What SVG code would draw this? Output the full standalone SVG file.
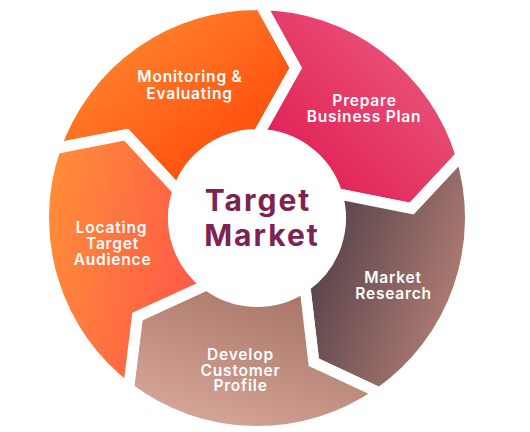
<svg xmlns="http://www.w3.org/2000/svg" width="530" height="432" viewBox="0 0 530 432">
<defs>
<linearGradient id="gMon" x1="0" y1="0" x2="1" y2="1"><stop offset="0" stop-color="#FF9638"/><stop offset="1" stop-color="#FF3A02"/></linearGradient>
<linearGradient id="gPre" x1="1" y1="0" x2="0" y2="1"><stop offset="0" stop-color="#EB6686"/><stop offset="1" stop-color="#DF114C"/></linearGradient>
<linearGradient id="gMar" x1="0" y1="0.15" x2="1" y2="0.65"><stop offset="0" stop-color="#463842"/><stop offset="1" stop-color="#B88177"/></linearGradient>
<linearGradient id="gDev" x1="0.8" y1="0" x2="0.2" y2="1"><stop offset="0" stop-color="#A36F63"/><stop offset="1" stop-color="#D9AA9C"/></linearGradient>
<linearGradient id="gLoc" x1="0" y1="0.3" x2="1" y2="0.6"><stop offset="0" stop-color="#FF8D39"/><stop offset="1" stop-color="#FF5649"/></linearGradient>
</defs>
<style>
.seg{stroke:#FFFFFF;stroke-width:11;stroke-linejoin:miter}
.lbl{font-family:Inter,"Open Sans","DejaVu Sans",sans-serif;font-weight:600;font-size:15.5px;letter-spacing:0.8px;fill:#FFFFFF;text-anchor:middle}
.ctr{font-family:Inter,"Open Sans","DejaVu Sans",sans-serif;font-weight:700;font-size:30px;letter-spacing:2px;fill:#7C2352;text-anchor:middle}
</style>
<rect width="530" height="432" fill="#FFFFFF"/>
<g id="connectors"></g>
<g id="monitoring">
<path class="seg" fill="url(#gMon)" d="M55.13,148.49 A213.5,213.5 0 0 1 260.73,4.53 L295.81,67.94 L258.46,134.51 A83.5,83.5 0 0 0 178.05,190.81 L126.27,134.72 Z"/>
<text class="lbl" x="190" y="82">Monitoring &amp;</text>
<text class="lbl" x="189.5" y="98.5">Evaluating</text>
</g>
<g id="prepare">
<path class="seg" fill="url(#gPre)" d="M260.73,4.53 A213.5,213.5 0 0 1 461.17,155.58 L411.71,208.54 L336.85,193.59 A83.5,83.5 0 0 0 258.46,134.51 L295.81,67.94 Z"/>
<text class="lbl" x="364.5" y="106">Prepare</text>
<text class="lbl" x="364" y="122">Business Plan</text>
</g>
<g id="research">
<path class="seg" fill="url(#gMar)" d="M461.17,155.58 A213.5,213.5 0 0 1 379.46,392.89 L313.81,362.22 L304.89,286.40 A83.5,83.5 0 0 0 336.85,193.59 L411.71,208.54 Z"/>
<text class="lbl" x="393" y="283">Market</text>
<text class="lbl" x="393.5" y="299">Research</text>
</g>
<g id="develop">
<path class="seg" fill="url(#gDev)" d="M379.46,392.89 A213.5,213.5 0 0 1 128.51,388.51 L137.40,316.59 L206.75,284.69 A83.5,83.5 0 0 0 304.89,286.40 L313.81,362.22 Z"/>
<text class="lbl" x="240.5" y="359.5">Develop</text>
<text class="lbl" x="240.5" y="375.5">Customer</text>
<text class="lbl" x="240.5" y="391">Profile</text>
</g>
<g id="locating">
<path class="seg" fill="url(#gLoc)" d="M128.51,388.51 A213.5,213.5 0 0 1 55.13,148.49 L126.27,134.72 L178.05,190.81 A83.5,83.5 0 0 0 206.75,284.69 L137.40,316.59 Z"/>
<text class="lbl" x="111.5" y="232.5">Locating</text>
<text class="lbl" x="112.5" y="249">Target</text>
<text class="lbl" x="112.5" y="265">Audience</text>
</g>
<g id="center">
<text class="ctr" x="258" y="211">Target</text>
<text class="ctr" x="262" y="246">Market</text>
</g>
</svg>
